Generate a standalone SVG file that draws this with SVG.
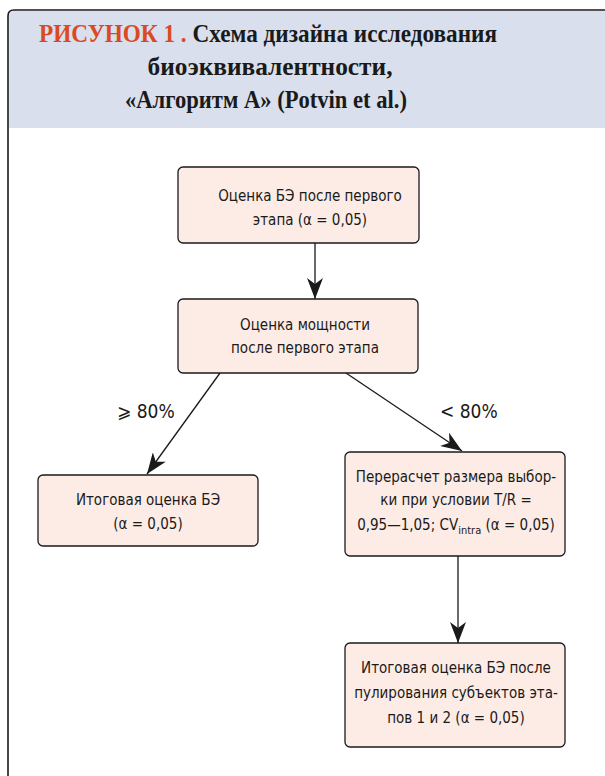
<svg xmlns="http://www.w3.org/2000/svg" width="605" height="776" viewBox="0 0 605 776">
<defs>
<style>
.frame{fill:#ffffff;stroke:#1a1a1a;stroke-width:1.6}
.hdr{fill:#d9dfec}
.box{fill:#fdece5;stroke:#1a1a1a;stroke-width:1.3}
.t{font-family:"Liberation Sans Narrow","DejaVu Sans Condensed","Roboto Condensed","Noto Sans",sans-serif;font-size:15px;fill:#1a1a1a;text-anchor:middle}
.lbl{font-family:"Liberation Sans Narrow","DejaVu Sans Condensed","Noto Sans",sans-serif;font-size:19px;fill:#1a1a1a}
.ttl{font-family:"Liberation Serif","Times New Roman",serif;font-weight:bold;font-size:25px;fill:#1a1a1a;text-anchor:middle}
.red{fill:#d94a1f}
.conn{stroke:#1a1a1a;stroke-width:1.3;fill:none}
</style>
<marker id="arr" markerUnits="userSpaceOnUse" markerWidth="22" markerHeight="16" viewBox="0 0 22 16" refX="21" refY="8" orient="auto">
<path d="M0,0 L21,8 L0,16 L6,8 Z" fill="#1a1a1a"/>
</marker>
</defs>
<rect width="605" height="776" fill="#ffffff"/>
<g id="frame">
<path class="frame" d="M8,790 L8,16 Q8,10 14,10 L620,10"/>
<path class="hdr" d="M9,128 L9,16.5 Q9,11 14.5,11 L605,11 L605,128 Z"/>
<text class="ttl" x="268" y="42" textLength="458" lengthAdjust="spacingAndGlyphs"><tspan class="red">РИСУНОК 1 .</tspan> Схема дизайна исследования</text>
<text class="ttl" x="270" y="75" textLength="245" lengthAdjust="spacingAndGlyphs">биоэквивалентности,</text>
<text class="ttl" x="266" y="108" textLength="282" lengthAdjust="spacingAndGlyphs">«Алгоритм А» (Potvin et al.)</text>
</g>
<g id="connectors">
<line class="conn" x1="315" y1="243" x2="315" y2="299" marker-end="url(#arr)"/>
<line class="conn" x1="220" y1="373" x2="147" y2="474" marker-end="url(#arr)"/>
<line class="conn" x1="346" y1="373" x2="462" y2="451" marker-end="url(#arr)"/>
<line class="conn" x1="458" y1="556" x2="458" y2="643" marker-end="url(#arr)"/>
<text class="lbl" x="117" y="418">⩾ 80%</text>
<text class="lbl" x="440" y="418">&lt; 80%</text>
</g>
<g id="n1">
<rect class="box" x="178" y="167" width="241" height="76" rx="5"/>
<text class="t" x="310" y="201">Оценка БЭ после первого</text>
<text class="t" x="310" y="225">этапа (α = 0,05)</text>
</g>
<g id="n2">
<rect class="box" x="178" y="299" width="240" height="74" rx="5"/>
<text class="t" x="305" y="330">Оценка мощности</text>
<text class="t" x="305" y="353">после первого этапа</text>
</g>
<g id="n3">
<rect class="box" x="38" y="475" width="220" height="71" rx="5"/>
<text class="t" x="148" y="505">Итоговая оценка БЭ</text>
<text class="t" x="148" y="529">(α = 0,05)</text>
</g>
<g id="n4">
<rect class="box" x="345" y="452" width="220" height="104" rx="5"/>
<text class="t" x="456" y="482">Перерасчет размера выбор-</text>
<text class="t" x="456" y="505">ки при условии T/R =</text>
<text class="t" x="456" y="530">0,95—1,05; CV<tspan font-size="11" dy="4">intra</tspan><tspan dy="-4"> (α = 0,05)</tspan></text>
</g>
<g id="n5">
<rect class="box" x="345" y="643" width="220" height="104" rx="5"/>
<text class="t" x="456" y="673">Итоговая оценка БЭ после</text>
<text class="t" x="456" y="698">пулирования субъектов эта-</text>
<text class="t" x="456" y="723">пов 1 и 2 (α = 0,05)</text>
</g>
</svg>
